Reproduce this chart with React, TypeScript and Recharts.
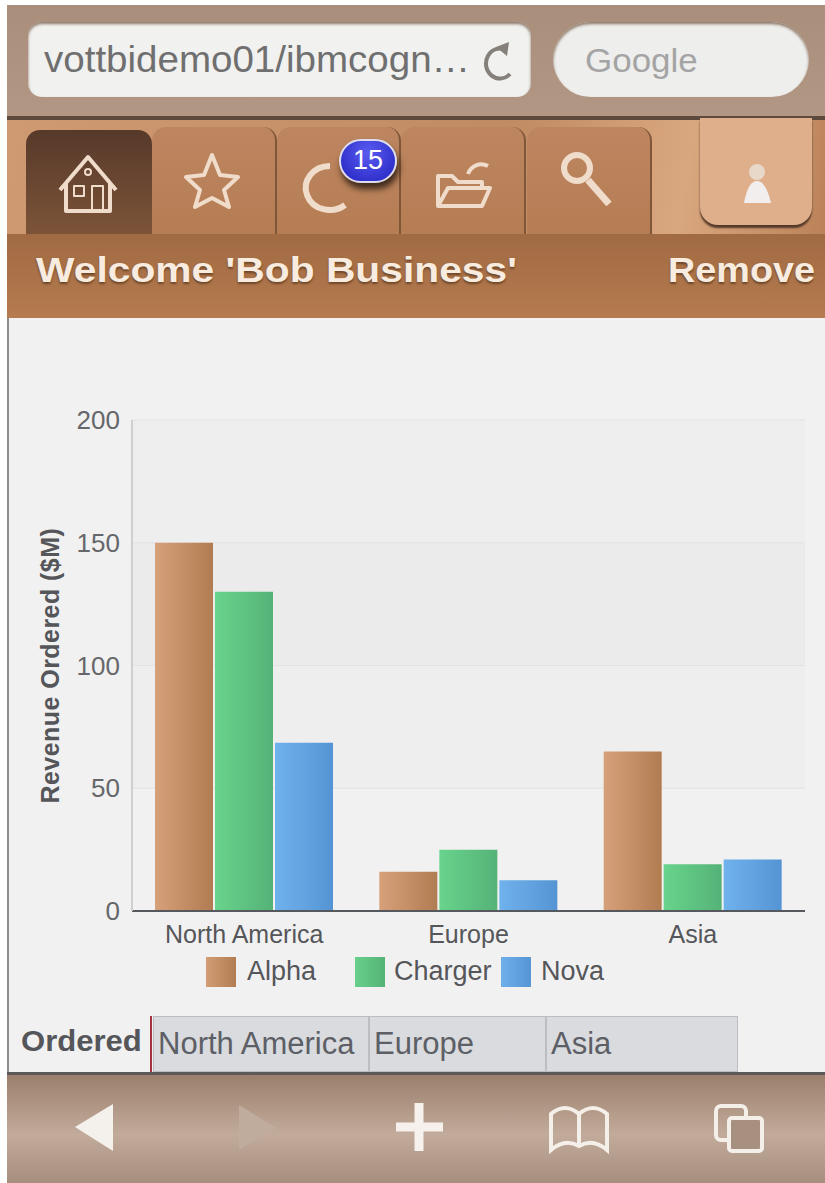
import React from "react";
import { BarChart, Bar, XAxis, YAxis, CartesianGrid, Legend } from "recharts";

const REGIONS = ["North America", "Europe", "Asia"];
const ALPHA = [150, 16, 65];
const CHARGER = [130, 25, 19];
const NOVA = [68.5, 12.5, 21];
const Y_TICKS = [0, 50, 100, 150, 200];
const data = REGIONS.map((region, i) => ({ region, Alpha: ALPHA[i], Charger: CHARGER[i], Nova: NOVA[i] }));

const FONT = '"Liberation Sans", Arial, sans-serif';
const TEXT = "#55565a";

// legend spacing in the original is uneven, so each entry has its own offset
const LEGEND_LEFT = [206, 355, 501];

function ChartLegend() {
  const entries = [
    { name: "Alpha", gap: 11 },
    { name: "Charger", gap: 9 },
    { name: "Nova", gap: 10 },
  ];
  const colours = ["linear-gradient(90deg,#d39c74,#b27c52)", "linear-gradient(90deg,#68d08a,#55b277)", "linear-gradient(90deg,#6fb0ea,#5595d6)"];
  return (
    <div style={{ position: "relative", height: 40, fontFamily: FONT, fontSize: 27, color: TEXT }}>
      {entries.map((e, i) => (
        <div key={e.name} style={{ position: "absolute", left: LEGEND_LEFT[i], top: 1, display: "flex", alignItems: "center" }}>
          <span style={{ width: 30, height: 30, background: colours[i], marginRight: e.gap, marginTop: 6 }} />
          <span style={{ position: "relative", top: 2 }}>{e.name}</span>
        </div>
      ))}
    </div>
  );
}

function Icons() {
  const s = { fill: "none", stroke: "#f0dccb", strokeWidth: 4, strokeLinejoin: "round" as const };
  return (
    <svg width={825} height={1183} style={{ position: "absolute", left: 0, top: 0 }}>
      {/* house */}
      <path d="M60 190 L88 157 L116 190 M66 183 V211 H110 V183" {...s} />
      <rect x="74" y="186" width="10" height="10" {...s} strokeWidth={2} />
      <rect x="92" y="186" width="11" height="25" {...s} strokeWidth={2} />
      <circle cx="88" cy="172" r="3" {...s} strokeWidth={2} />
      {/* star */}
      <path d="M212 155 L220 175 L238 177 L224 190 L229 207 L212 198 L195 207 L200 190 L186 177 L204 175 Z" {...s} />
      {/* recent */}
      <path d="M345 205 A24 22 0 1 1 330 166" {...s} strokeWidth={6} />
      {/* folder */}
      <path d="M438 206 V176 H452 L458 182 H482 V188 M438 206 L448 188 H490 L482 206 Z" {...s} />
      <path d="M468 174 A14 14 0 0 1 488 166" {...s} />
      {/* search */}
      <circle cx="577" cy="168" r="13" {...s} strokeWidth={6} />
      <path d="M588 180 L609 204" {...s} strokeWidth={7} />
      {/* person */}
      <circle cx="757" cy="172" r="8" fill="#e8d8ca" />
      <path d="M744 203 Q748 181 757 181 Q766 181 771 203 Z" fill="#f2eeee" />
      {/* reload */}
      <path d="M506 50 A14 15 0 1 0 510 74" fill="none" stroke="#85807b" strokeWidth={4} />
      <path d="M496 47 L509 42 L507 56 Z" fill="#85807b" />
      {/* toolbar */}
      <path d="M113 1104 L75 1127 L113 1151 Z" fill="#f4f0ec" />
      <path d="M239 1105 L276 1128 L239 1150 Z" fill="#c0ac9d" />
      <path d="M419 1103 V1151 M396 1127 H443" stroke="#f6f1ec" strokeWidth={9} />
      <path d="M551 1150 V1114 Q565 1102 579 1114 Q593 1102 607 1114 V1150 Q593 1138 579 1146 Q565 1138 551 1150 Z M579 1114 V1146" fill="none" stroke="#f4efe9" strokeWidth={4} />
      <rect x="716" y="1106" width="30" height="34" rx="5" fill="none" stroke="#f4efe9" strokeWidth={4} />
      <rect x="729" y="1118" width="33" height="33" rx="3" fill="#a89080" stroke="#f4efe9" strokeWidth={4} />
    </svg>
  );
}

function Tab({ left, width, active }: { left: number; width: number; active?: boolean }) {
  return (
    <div
      style={{
        position: "absolute",
        left,
        top: active ? 130 : 127,
        width,
        height: active ? 105 : 108,
        borderRadius: "14px 14px 0 0",
        background: active ? "linear-gradient(#57392a,#7c5438)" : "linear-gradient(#bd8660,#b67d54)",
        borderRight: active ? "none" : "2px solid #7e5638",
        boxSizing: "border-box",
      }}
    />
  );
}

function Cell({ left, width, label }: { left: number; width: number; label: string }) {
  return (
    <div
      style={{
        position: "absolute",
        left,
        top: 1016,
        width,
        height: 56,
        boxSizing: "border-box",
        background: "#d9dbdf",
        border: "1px solid #bcbdc0",
        paddingLeft: 4,
        lineHeight: "54px",
        fontSize: 31,
        whiteSpace: "nowrap",
        color: "#5d5f66",
      }}
    >
      {label}
    </div>
  );
}

// the screenshot is stretched sideways, headings keep their height but run wider
const wide = (x: number) => ({ transform: `scaleX(${x})`, transformOrigin: "left center" });

export default function App() {
  return (
    <div style={{ position: "absolute", left: 0, top: 0, width: 825, height: 1183, background: "#fff", overflow: "hidden", fontFamily: FONT }}>
      {/* browser bar */}
      <div style={{ position: "absolute", left: 7, top: 5, width: 818, height: 113, background: "linear-gradient(#a98f7b,#b19784)" }} />
      <div style={{ position: "absolute", left: 7, top: 116, width: 818, height: 4, background: "#5d4a3c" }} />
      <div style={{ position: "absolute", left: 28, top: 22, width: 503, height: 75, borderRadius: 14, background: "#f1f1ef", boxShadow: "inset 0 2px 3px #8a7565" }} />
      <div style={{ position: "absolute", left: 44, top: 22, fontSize: 36, lineHeight: "76px", color: "#6f6f70", whiteSpace: "nowrap", ...wide(1.07) }}>
        vottbidemo01/ibmcogn…
      </div>
      <div style={{ position: "absolute", left: 553, top: 22, width: 256, height: 75, borderRadius: 38, background: "#eeeeec", boxShadow: "inset 0 2px 3px #8a7565" }} />
      <div style={{ position: "absolute", left: 585, top: 22, fontSize: 33, lineHeight: "78px", color: "#a4a4a4", ...wide(1.06) }}>
        Google
      </div>

      {/* tab strip */}
      <div style={{ position: "absolute", left: 7, top: 120, width: 818, height: 115, background: "linear-gradient(100deg,#cf9a72 0%,#c08a62 60%,#d9a77f 82%,#bb8258 100%)" }} />
      <Tab left={26} width={126} active />
      <Tab left={152} width={125} />
      <Tab left={277} width={124} />
      <Tab left={401} width={125} />
      <Tab left={527} width={125} />
      <div style={{ position: "absolute", left: 700, top: 118, width: 112, height: 107, borderRadius: "0 0 18px 18px", background: "#dfae8b", boxShadow: "0 3px 2px #54392a" }} />
      <div style={{ position: "absolute", left: 7, top: 234, width: 818, height: 84, background: "linear-gradient(#a06a42,#b67b50)" }} />
      <div style={{ position: "absolute", left: 36, top: 250, fontSize: 35, fontWeight: 700, color: "#f8ebdf", whiteSpace: "nowrap", textShadow: "0 2px 2px #6d4628", ...wide(1.165) }}>Welcome 'Bob Business'</div>
      <div style={{ position: "absolute", left: 668, top: 250, fontSize: 35, fontWeight: 700, color: "#f8ebdf", whiteSpace: "nowrap", textShadow: "0 2px 2px #6d4628", ...wide(1.08) }}>Remove</div>

      {/* page */}
      <div style={{ position: "absolute", left: 7, top: 318, width: 818, height: 757, background: "#f1f1f1", borderLeft: "2px solid #8d8d8d", boxSizing: "border-box" }} />

      <div style={{ position: "absolute", left: 0, top: 400 }}>
        <BarChart
          width={825}
          height={590}
          data={data}
          margin={{ top: 20, right: 20, bottom: 0, left: 32 }}
          barCategoryGap={23}
          barGap={2}
        >
          <defs>
            <linearGradient id="alpha" x1="0" x2="1" y1="0" y2="0">
              <stop offset="0" stopColor="#d6a07a" />
              <stop offset="1" stopColor="#b27c52" />
            </linearGradient>
            <linearGradient id="charger" x1="0" x2="1" y1="0" y2="0">
              <stop offset="0" stopColor="#68d48c" />
              <stop offset="1" stopColor="#55b277" />
            </linearGradient>
            <linearGradient id="nova" x1="0" x2="1" y1="0" y2="0">
              <stop offset="0" stopColor="#70b2ec" />
              <stop offset="1" stopColor="#5494d4" />
            </linearGradient>
          </defs>
          <CartesianGrid
            vertical={false}
            stroke="#e2e2e2"
            horizontalFill={["#eeeeee", "#ebebeb", "#eeeeee", "#f1f1f1"]}
            fillOpacity={1}
          />
          <XAxis
            dataKey="region"
            height={39}
            tick={{ fontFamily: FONT, fontSize: 25, fill: TEXT }}
            axisLine={{ stroke: "#55585c", strokeWidth: 2 }}
            tickLine={false}
            tickMargin={8}
          />
          <YAxis
            width={100}
            domain={[0, 200]}
            ticks={Y_TICKS}
            tick={{ fontFamily: FONT, fontSize: 26, fill: "#66676a" }}
            axisLine={{ stroke: "#cfcfcf", strokeWidth: 2 }}
            tickLine={false}
            tickMargin={6}
            label={{
              value: "Revenue Ordered ($M)",
              angle: -90,
              position: "insideLeft",
              offset: 18,
              dy: 138,
              style: { fontFamily: FONT, fontSize: 25, fontWeight: 700, fill: TEXT, letterSpacing: 0.45 },
            }}
          />
          <Bar dataKey="Alpha" fill="url(#alpha)" isAnimationActive={false} />
          <Bar dataKey="Charger" fill="url(#charger)" isAnimationActive={false} />
          <Bar dataKey="Nova" fill="url(#nova)" isAnimationActive={false} />
          <Legend verticalAlign="bottom" height={40} wrapperStyle={{ left: 0, width: 825, margin: 0 }} content={<ChartLegend />} />
        </BarChart>
      </div>

      {/* breadcrumb table */}
      <div style={{ position: "absolute", left: 21, top: 1025, fontSize: 29, fontWeight: 700, color: "#55565a", ...wide(1.07) }}>Ordered</div>
      <Cell left={153} width={216} label="North America" />
      <Cell left={369} width={177} label="Europe" />
      <Cell left={546} width={192} label="Asia" />
      <div style={{ position: "absolute", left: 150, top: 1016, width: 2, height: 56, background: "#a2333f" }} />

      {/* bottom toolbar */}
      <div style={{ position: "absolute", left: 7, top: 1072, width: 818, height: 3, background: "#5c5a58" }} />
      <div style={{ position: "absolute", left: 7, top: 1075, width: 818, height: 108, background: "linear-gradient(#9b7f6c,#c2ab9b 55%,#a58e7d)" }} />

      <Icons />

      {/* notification badge */}
      <div style={{ position: "absolute", left: 339, top: 139, width: 58, height: 44, borderRadius: 22, background: "radial-gradient(circle at 50% 30%,#5a5cf0,#2222c0)", border: "2px solid #dde", boxSizing: "border-box", boxShadow: "2px 6px 6px #3e2a1c", color: "#fff", fontSize: 27, textAlign: "center", lineHeight: "38px" }}>15</div>
    </div>
  );
}
